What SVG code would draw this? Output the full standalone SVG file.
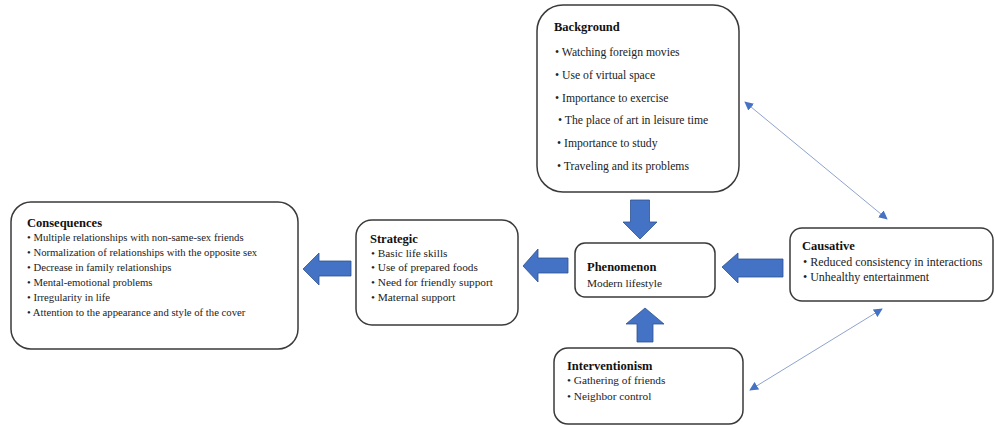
<svg xmlns="http://www.w3.org/2000/svg" width="995" height="425" viewBox="0 0 995 425">
<defs>
<style>
.box{fill:#fff;stroke:#3a3a3a;stroke-width:1.5}
.t{font-family:"Liberation Serif","Times New Roman",serif;font-size:12.5px;font-weight:bold;fill:#111}
.i{font-family:"Liberation Serif","Times New Roman",serif;font-size:11.3px;fill:#222}
.s{font-size:10.7px}
.b{font-size:11.7px}
.c{font-size:12px}
.blk{fill:#4472C4;stroke:#2F528F;stroke-width:0.8}
.ln{stroke:#8EA3CC;stroke-width:1;fill:none;marker-start:url(#ah);marker-end:url(#ah)}
</style>
<marker id="ah" viewBox="0 0 10 10" refX="9" refY="5" markerWidth="9" markerHeight="9" markerUnits="userSpaceOnUse" orient="auto-start-reverse">
<path d="M0,0 L10,5 L0,10 Z" fill="#4472C4"/>
</marker>
</defs>

<g id="background">
<rect class="box" x="537" y="5" width="202" height="187" rx="26"/>
<text class="t" x="554" y="31">Background</text>
<text class="i b" x="555" y="56">• Watching foreign movies</text>
<text class="i b" x="555" y="79">• Use of virtual space</text>
<text class="i b" x="555" y="102">• Importance to exercise</text>
<text class="i b" x="558" y="124">• The place of art in leisure time</text>
<text class="i b" x="557" y="147">• Importance to study</text>
<text class="i b" x="557" y="170">• Traveling and its problems</text>
</g>

<g id="consequences">
<rect class="box" x="11" y="202" width="287" height="147" rx="20"/>
<text class="t" x="27" y="227">Consequences</text>
<text class="i s" x="27" y="241">• Multiple relationships with non-same-sex friends</text>
<text class="i s" x="27" y="256">• Normalization of relationships with the opposite sex</text>
<text class="i s" x="27" y="271">• Decrease in family relationships</text>
<text class="i s" x="27" y="286">• Mental-emotional problems</text>
<text class="i s" x="27" y="301">• Irregularity in life</text>
<text class="i s" x="27" y="316">• Attention to the appearance and style of the cover</text>
</g>

<g id="strategic">
<rect class="box" x="356" y="220" width="162" height="105" rx="16"/>
<text class="t" x="370" y="243">Strategic</text>
<text class="i" x="371" y="257">• Basic life skills</text>
<text class="i" x="371" y="271">• Use of prepared foods</text>
<text class="i" x="371" y="286">• Need for friendly support</text>
<text class="i" x="371" y="301">• Maternal support</text>
</g>

<g id="phenomenon">
<rect class="box" x="575" y="243" width="140" height="54" rx="10"/>
<text class="t" x="587" y="271">Phenomenon</text>
<text class="i" x="587" y="287">Modern lifestyle</text>
</g>

<g id="causative">
<rect class="box" x="790" y="228" width="203" height="73" rx="12"/>
<text class="t" x="802" y="250">Causative</text>
<text class="i c" x="803" y="266">• Reduced consistency in interactions</text>
<text class="i c" x="803" y="281">• Unhealthy entertainment</text>
</g>

<g id="interventionism">
<rect class="box" x="554" y="348" width="189" height="76" rx="14"/>
<text class="t" x="567" y="370">Interventionism</text>
<text class="i" x="567" y="384">• Gathering of friends</text>
<text class="i" x="567" y="400">• Neighbor control</text>
</g>

<g id="connectors">
<polygon class="blk" points="630.5,200 649.5,200 649.5,222 657,222 640,239 623,222 630.5,222"/>
<polygon class="blk" points="637,342 653,342 653,324 664,324 645,308 626,324 637,324"/>
<polygon class="blk" points="568,258 538,258 538,249 523,266 538,282 538,273 568,273"/>
<polygon class="blk" points="351,261 319,261 319,253 303,269 319,285 319,276 351,276"/>
<polygon class="blk" points="783,259 738,259 738,253 722,267 738,283 738,277 783,277"/>
<line class="ln" x1="745" y1="102" x2="887" y2="219"/>
<line class="ln" x1="882" y1="309" x2="750" y2="390"/>
</g>
</svg>
